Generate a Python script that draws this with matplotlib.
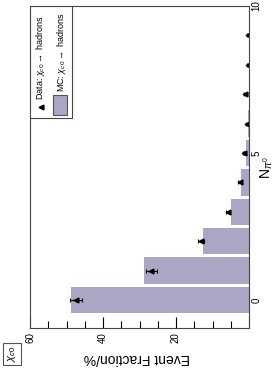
import numpy as np
import matplotlib
matplotlib.use("Agg")
import matplotlib.pyplot as plt
from matplotlib.patches import Rectangle

plt.rcParams['font.family'] = ['Liberation Sans', 'DejaVu Sans']
plt.rcParams['mathtext.fontset'] = 'custom'
plt.rcParams['mathtext.rm'] = 'Liberation Sans'
plt.rcParams['mathtext.it'] = 'Liberation Sans:italic'

# number of pi0 per event
n_pi0 = [0, 1, 2, 3, 4, 5, 6, 7, 8, 9]
# MC fraction (%)
mc_frac = [48.9, 28.8, 12.6, 4.8, 2.2, 0.9, 0.35, 0.12, 0.05, 0.02]
# data fraction (%) and errors
data_frac = [47.4, 26.8, 13.1, 5.7, 2.6, 1.5, 0.6, 1.0, 0.3, 0.3]
data_err = [1.7, 1.5, 0.9, 0.5, 0.3, 0.25, 0.2, 0.4, 0.15, 0.15]

bar_col = '#aaa7c5'

fig = plt.figure(figsize=(2.77, 3.70), dpi=100)
ax = fig.add_axes([30/277, 42/370, 219/277, 322/370])

ax.barh(n_pi0, mc_frac, height=0.9, color=bar_col, linewidth=0)
ax.errorbar(data_frac, n_pi0, xerr=data_err, fmt='<', color='black',
            markersize=3.5, elinewidth=0.8, capsize=1.2, capthick=0.8)

ax.set_xlim(60, 0)
ax.set_ylim(-0.95, 10)

ax.yaxis.tick_right()
ax.set_yticks([0, 5, 10])
ax.set_yticklabels(['0', '5', '10'], rotation=90, va='center', fontsize=7)
ax.tick_params(axis='y', length=0, pad=2)

ax.set_xticks([0, 20, 40, 60])
ax.set_xticklabels(['', '20', '40', '60'], rotation=90, ha='center', fontsize=7)
ax.set_xticks(np.arange(0, 61, 5), minor=True)
ax.tick_params(axis='x', which='major', direction='in', length=8, width=0.8, pad=3)
ax.tick_params(axis='x', which='minor', direction='in', length=5, width=0.8)
for s in ax.spines.values():
    s.set_linewidth(0.8)
    s.set_color('#444444')

# labels
fig.text(137/277, 1 - 358/370, 'Event Fraction/%', rotation=180,
         ha='center', va='center', fontsize=10)
fig.text(267/277, 1 - 168/370, r'$\mathrm{N}_{\pi^0}$', rotation=90,
         ha='center', va='center', fontsize=10)
fig.text(12/277, 1 - 354/370, r'$\chi_{c0}$', rotation=90, ha='center',
         va='center', fontsize=8,
         bbox=dict(boxstyle='square,pad=0.25', fc='white', ec='#555555', lw=0.8))

# legend drawn by hand (rotated)
ax.add_patch(Rectangle((0, 0.652), 0.192, 0.348, transform=ax.transAxes,
                       fc='white', ec='#444444', lw=0.8, zorder=5))
ax.plot([0.05], [0.686], marker='<', color='black', markersize=3.5,
        transform=ax.transAxes, zorder=6, clip_on=False)
ax.add_patch(Rectangle((0.105, 0.661), 0.064, 0.063, transform=ax.transAxes,
                       fc=bar_col, ec='#555555', lw=0.8, zorder=6))
ax.text(0.05, 0.708, r'Data: $\chi_{c0}\rightarrow$ hadrons', rotation=90,
        transform=ax.transAxes, ha='center', va='bottom', fontsize=6.5, zorder=7)
ax.text(0.146, 0.733, r'MC: $\chi_{c0}\rightarrow$ hadrons', rotation=90,
        transform=ax.transAxes, ha='center', va='bottom', fontsize=6.5, zorder=7)

fig.savefig('out.png', dpi=100)
